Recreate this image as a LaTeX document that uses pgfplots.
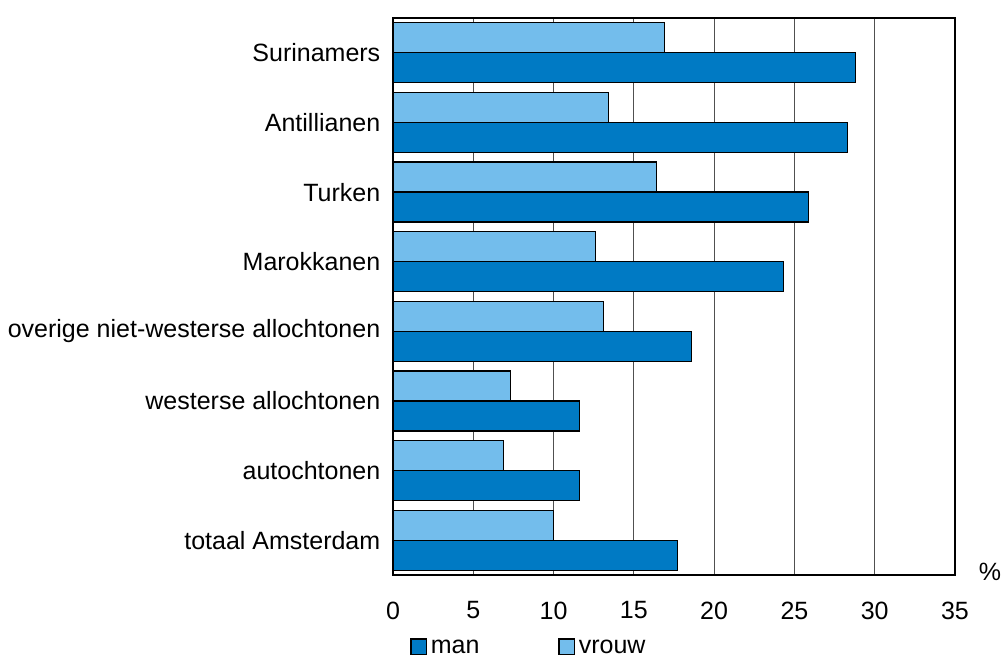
\documentclass[border=0pt]{standalone}
\usepackage{fontspec}
\setmainfont{Liberation Sans}
\usepackage{pgfplots}
\pgfplotsset{compat=1.18}
\definecolor{manblue}{RGB}{0,122,196}
\definecolor{vrouwblue}{RGB}{115,189,236}
\definecolor{gridgray}{RGB}{80,80,80}
\pgfplotstableread{
idx man vrouw
0 17.7 10.0
1 11.6 6.9
2 11.6 7.3
3 18.6 13.1
4 24.3 12.6
5 25.9 16.4
6 28.3 13.4
7 28.8 16.9
}\data
\begin{document}
\fontsize{12.5}{15}\selectfont
\begin{tikzpicture}
\path[use as bounding box] (-196.5pt,-42.5pt) rectangle (305pt,287.5pt);
\begin{axis}[
    at={(0,0)}, anchor=south west,
    scale only axis, clip=false,
    width=281pt, height=278.5pt,
    xbar, bar width=15pt,
    xmin=0, xmax=35,
    ymin=-0.5, ymax=7.5,
    xtick={0,5,...,35},
    ytick={0,...,7},
    yticklabels={totaal Amsterdam, autochtonen, westerse allochtonen, overige niet-westerse allochtonen, Marokkanen, Turken, Antillianen, Surinamers},
    major tick length=0pt,
    xmajorgrids, grid style={gridgray, line width=0.5pt},
    axis line style={black, line width=0.6pt},
    tick label style={font=\fontsize{12.5}{15}\selectfont},
    xticklabel style={yshift=-9pt},
    yticklabel style={xshift=-2pt},
    /pgf/number format/assume math mode=true,
    legend columns=2,
    legend style={at={(rel axis cs:0,0)}, anchor=west, xshift=5.5pt, yshift=-37pt,
        draw=none, fill=none, font=\fontsize{12.5}{15}\selectfont,
        /tikz/every even column/.append style={column sep=37.5pt}},
    legend image code/.code={\draw[#1] (-2pt,-2.6pt) rectangle (5.6pt,5pt);},
]
\addplot[fill=manblue, draw=black, line width=0.6pt, bar shift=-7.5pt] table[x=man, y=idx] {\data};
\addplot[fill=vrouwblue, draw=black, line width=0.6pt, bar shift=7.5pt] table[x=vrouw, y=idx] {\data};
\legend{man, vrouw}
\node at (rel axis cs:1,0) [xshift=17.5pt, yshift=1.5pt] {\%};
\end{axis}
\end{tikzpicture}
\end{document}
